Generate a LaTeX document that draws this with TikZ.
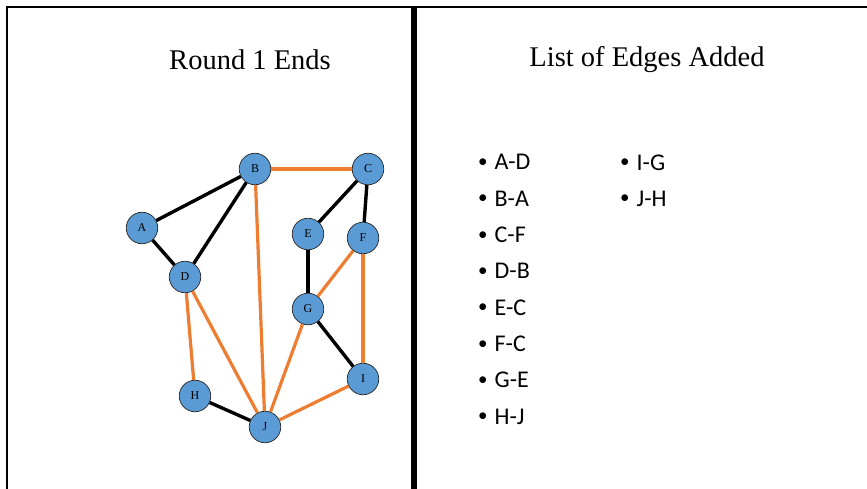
\documentclass[tikz,border=0pt]{standalone}
\usepackage{fontspec}
\setmainfont{Liberation Serif}
\newfontfamily\listfont{Carlito}
\definecolor{nodeblue}{HTML}{5B9BD5}
\definecolor{treeorange}{HTML}{ED7D31}
\tikzset{
    vertex/.style={circle, draw=black!85, line width=0.7pt, fill=nodeblue,
        minimum size=31.5pt, inner sep=0pt, font=\fontsize{12}{12}\selectfont},
    plainedge/.style={line width=3.4pt, black},
    treeedge/.style={line width=3.2pt, treeorange},
    listitem/.style={anchor=west, inner sep=0pt, font=\listfont\fontsize{24}{24}\selectfont}
}
\newcommand{\listbullet}{{\fontsize{19}{19}\selectfont\raisebox{2.5pt}{•}}\hspace{7pt}}
\begin{document}
\begin{tikzpicture}[x=1pt, y=-1pt]
    \useasboundingbox (0,0) rectangle (867,489);

    % Frame and divider
    \draw[line width=2.5pt] (7,489) -- (7,7) -- (867,7);
    \draw[line width=6pt] (414,7) -- (414,489);

    % Titles
    \node[font=\fontsize{28.5}{28.5}\selectfont] (title) at (250,60) {Round 1 Ends};
    \node[font=\fontsize{28.5}{28.5}\selectfont] (listtitle) at (647,60) {List of Edges Added};

    % Vertices
    \foreach \name/\x/\y in {A/142/228, B/255/169, C/368/169, D/185/277, E/308/234,
                              F/363/238, G/308/309, H/195/396, I/363/379, J/265/427}
        \node[vertex] (\name) at (\x,\y) {\name};

    % Edges not in the tree
    \foreach \u/\v in {A/B, A/D, B/D, C/E, C/F, E/G, G/I, H/J}
        \draw[plainedge] (\u) -- (\v);

    % Edges added this round
    \foreach \u/\v in {B/C, B/J, D/H, D/J, F/G, F/I, G/J, I/J}
        \draw[treeedge] (\u) -- (\v);

    % List of edges
    \foreach \item [count=\i] in {A-D, B-A, C-F, D-B, E-C, F-C, G-E, H-J}
        \node[listitem] (left\i) at (478,126+36.3*\i) {\listbullet\item};
    \foreach \item [count=\i] in {I-G, J-H}
        \node[listitem] (right\i) at (620,126+36.3*\i) {\listbullet\item};
\end{tikzpicture}
\end{document}
